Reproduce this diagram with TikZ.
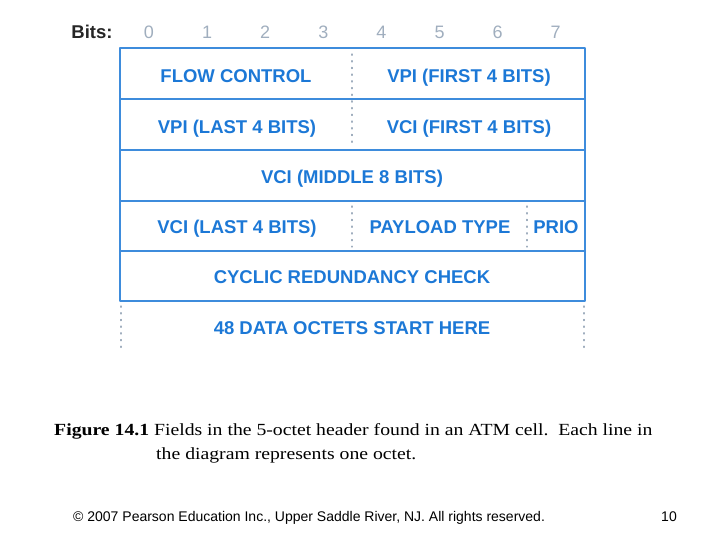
\documentclass[tikz,border=0pt]{standalone}
\usepackage{fontspec}
\setmainfont{Liberation Serif}
\setsansfont{Liberation Sans}
\begin{document}
\begin{tikzpicture}[x=1pt,y=-1pt, line join=round, line cap=round]
	\useasboundingbox (0,0) rectangle (720,540);
	\definecolor{cellblue}{RGB}{28,120,214}
	\definecolor{bitgrey}{RGB}{160,174,190}
	\colorlet{cell edge}{cellblue!85}
	\tikzset{field/.style={text=cellblue, inner sep=0pt, anchor=base,
			font=\sffamily\bfseries\fontsize{18.5}{20}\selectfont},
		bitno/.style={text=bitgrey, anchor=base, font=\sffamily\fontsize{18}{20}\selectfont},
		rowline/.style={draw=cell edge, line width=2pt},
		split/.style={draw=bitgrey, dash pattern=on 1.2pt off 5.5pt, line width=1.3pt},
		caption/.style={anchor=base west, inner sep=0pt, xscale=1.16, font=\fontsize{17}{24}\selectfont}}
	% bit numbers
	\node[anchor=base, font=\sffamily\bfseries\fontsize{18.5}{20}\selectfont, text=black!85] (bits) at (92,38.5) {Bits:};
	\foreach \b in {0,...,7}
		\node[bitno] (bit\b) at ({149+58.1*\b},38.5) {\b};
	% the five octets
	\draw[rowline] (120,48) rectangle (585,301);
	\foreach \y in {99,150,201,251}
		\draw[rowline] (120,\y) -- (585,\y);
	\draw[split] (352,54) -- (352,146)
	(352,206) -- (352,247)
	(527,206) -- (527,247);
	\draw[split] (121,306) -- (121,352)
	(584,306) -- (584,352);
	%
	\node[field] (flow) at (236,82.6) {FLOW CONTROL};
	\node[field] (vpiA) at (469,82.6) {VPI (FIRST 4 BITS)};
	\node[field] (vpiB) at (237,133.6) {VPI (LAST 4 BITS)};
	\node[field] (vciA) at (469,133.6) {VCI (FIRST 4 BITS)};
	\node[field] (vciB) at (352,183.6) {VCI (MIDDLE 8 BITS)};
	\node[field] (vciC) at (237,233.6) {VCI (LAST 4 BITS)};
	\node[field] (ptype) at (440,233.6) {PAYLOAD TYPE};
	\node[field] (prio) at (556,233.6) {PRIO};
	\node[field] (crc) at (352,283.6) {CYCLIC REDUNDANCY CHECK};
	\node[field] (data) at (352,334.6) {48 DATA OCTETS START HERE};
	% caption and footer
	\node[caption] (caption) at (54,435)
	{\textbf{Figure 14.1} Fields in the 5-octet header found in an ATM cell.\ \ Each line in};
	\node[caption] (capcont) at (156,459)
	{the diagram represents one octet.};
	\node[anchor=base west, inner sep=0pt, font=\sffamily\fontsize{14}{16}\selectfont] (footer) at (73,521)
	{\textcopyright{} 2007 Pearson Education Inc., Upper Saddle River, NJ. All rights reserved.};
	\node[anchor=base east, inner sep=0pt, font=\sffamily\fontsize{14}{16}\selectfont] (pageno) at (677,521) {10};
\end{tikzpicture}
\end{document}
